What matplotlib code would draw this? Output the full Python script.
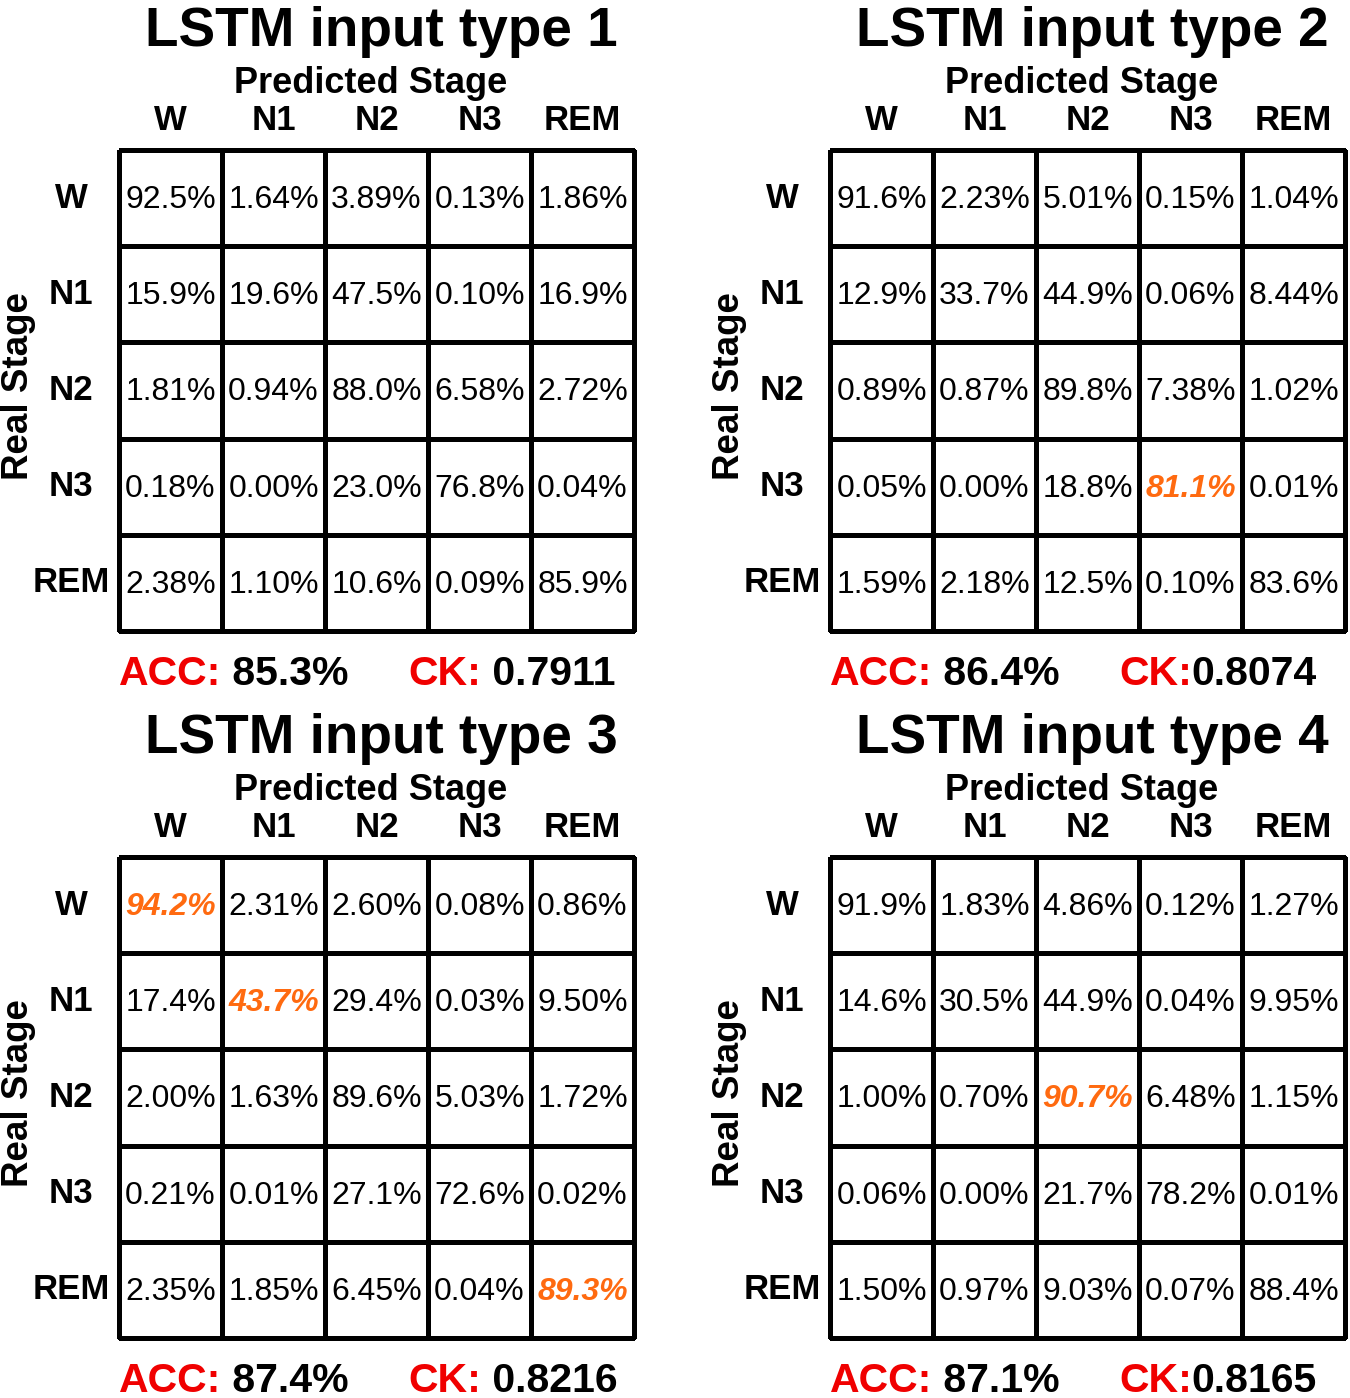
import numpy as np
from matplotlib import pyplot as plt
from matplotlib.colors import ListedColormap

plt.rcParams["font.family"] = ["Liberation Sans", "DejaVu Sans"]

STAGES = ["W", "N1", "N2", "N3", "REM"]

TITLES = ["LSTM input type 1", "LSTM input type 2", "LSTM input type 3", "LSTM input type 4"]

CM_1 = [
    ["92.5%", "1.64%", "3.89%", "0.13%", "1.86%"],
    ["15.9%", "19.6%", "47.5%", "0.10%", "16.9%"],
    ["1.81%", "0.94%", "88.0%", "6.58%", "2.72%"],
    ["0.18%", "0.00%", "23.0%", "76.8%", "0.04%"],
    ["2.38%", "1.10%", "10.6%", "0.09%", "85.9%"],
]
CM_2 = [
    ["91.6%", "2.23%", "5.01%", "0.15%", "1.04%"],
    ["12.9%", "33.7%", "44.9%", "0.06%", "8.44%"],
    ["0.89%", "0.87%", "89.8%", "7.38%", "1.02%"],
    ["0.05%", "0.00%", "18.8%", "81.1%", "0.01%"],
    ["1.59%", "2.18%", "12.5%", "0.10%", "83.6%"],
]
CM_3 = [
    ["94.2%", "2.31%", "2.60%", "0.08%", "0.86%"],
    ["17.4%", "43.7%", "29.4%", "0.03%", "9.50%"],
    ["2.00%", "1.63%", "89.6%", "5.03%", "1.72%"],
    ["0.21%", "0.01%", "27.1%", "72.6%", "0.02%"],
    ["2.35%", "1.85%", "6.45%", "0.04%", "89.3%"],
]
CM_4 = [
    ["91.9%", "1.83%", "4.86%", "0.12%", "1.27%"],
    ["14.6%", "30.5%", "44.9%", "0.04%", "9.95%"],
    ["1.00%", "0.70%", "90.7%", "6.48%", "1.15%"],
    ["0.06%", "0.00%", "21.7%", "78.2%", "0.01%"],
    ["1.50%", "0.97%", "9.03%", "0.07%", "88.4%"],
]

# best cell of each class across input types (drawn orange)
HIGHLIGHT = [[], [(3, 3)], [(0, 0), (1, 1), (4, 4)], [(2, 2)]]

ACC = [" 85.3%", " 86.4%", " 87.4%", " 87.1%"]
CK = [" 0.7911", "0.8074", " 0.8216", "0.8165"]

W, H = 1350, 1398
# axes boxes in pixels: left, top
BOXES = [(119, 150), (830, 150), (119, 857), (830, 857)]
BOX_W, BOX_H = 515, 481

ORANGE = "#FF6A10"
RED = "#F00000"

fig = plt.figure(figsize=(W / 100, H / 100), dpi=100)

for k, cm in enumerate([CM_1, CM_2, CM_3, CM_4]):
    left, top = BOXES[k]
    ax = fig.add_axes([left / W, 1 - (top + BOX_H) / H, BOX_W / W, BOX_H / H])
    mesh = ax.pcolormesh(np.zeros((5, 5)), cmap=ListedColormap(["white"]),
                         edgecolors="black", linewidth=2.2)
    mesh.set_clip_on(False)
    ax.set_xlim(0, 5)
    ax.set_ylim(5, 0)
    ax.axis("off")

    for i in range(5):
        for j in range(5):
            hl = (i, j) in HIGHLIGHT[k]
            ax.text(j + 0.5, i + 0.52, cm[i][j], ha="center", va="center",
                    fontsize=23,
                    color=ORANGE if hl else "black",
                    fontweight="bold" if hl else "normal",
                    fontstyle="italic" if hl else "normal")

    for j, s in enumerate(STAGES):
        ax.text(j + 0.5, -0.21, s, ha="center", va="baseline",
                fontsize=25, fontweight="bold", clip_on=False)
        ax.text(-0.466, j + 0.5, s, ha="center", va="center",
                fontsize=25, fontweight="bold", clip_on=False)

    ax.text(2.44, -0.59, "Predicted Stage", ha="center", va="baseline",
            fontsize=26, fontweight="bold")
    ax.text(2.55, -1.08, TITLES[k], ha="center", va="baseline",
            fontsize=39.5, fontweight="bold")
    ax.text(-0.98, 2.45, "Real Stage", ha="center", va="center", rotation=90,
            fontsize=26.5, fontweight="bold")

    acc = ax.text(0, 5.56, "ACC:", ha="left", va="baseline",
                  fontsize=29.5, fontweight="bold", color=RED)
    ax.annotate(ACC[k], xy=(1, 0), xycoords=acc, ha="left", va="bottom",
                fontsize=29.5, fontweight="bold")
    ck = ax.text(2.805, 5.56, "CK:", ha="left", va="baseline",
                 fontsize=29.5, fontweight="bold", color=RED)
    ax.annotate(CK[k], xy=(1, 0), xycoords=ck, ha="left", va="bottom",
                fontsize=29.5, fontweight="bold")

fig.savefig("out.png", dpi=100, facecolor="white")
plt.close(fig)
